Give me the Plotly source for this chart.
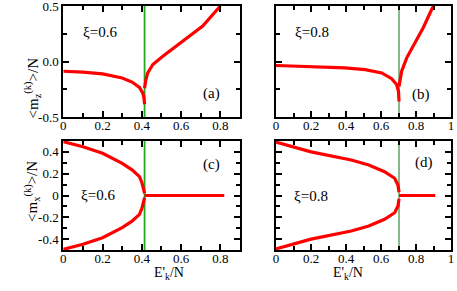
import plotly.graph_objects as go

# ---- data ----
xc_a = 0.414   # critical energy, xi = 0.6
xc_b = 0.703   # critical energy, xi = 0.8

a_lower_x = [0, 0.1, 0.2, 0.3, 0.35, 0.388, 0.405, 0.411, 0.414]
a_lower_y = [-0.088, -0.095, -0.112, -0.148, -0.185, -0.233, -0.285, -0.33, -0.385]
a_upper_x = [0.414, 0.42, 0.43, 0.456, 0.507, 0.608, 0.71, 0.80]
a_upper_y = [-0.24, -0.17, -0.103, -0.027, 0.048, 0.185, 0.32, 0.50]

b_lower_x = [0, 0.194, 0.394, 0.51, 0.604, 0.661, 0.69, 0.70, 0.703]
b_lower_y = [-0.036, -0.045, -0.058, -0.073, -0.103, -0.155, -0.21, -0.27, -0.36]
b_upper_x = [0.703, 0.718, 0.747, 0.794, 0.842, 0.89, 0.9]
b_upper_y = [-0.224, -0.088, 0.033, 0.17, 0.306, 0.47, 0.5]

c_upper_x = [0, 0.1, 0.2, 0.3, 0.35, 0.388, 0.40, 0.41, 0.414]
c_upper_y = [0.494, 0.448, 0.387, 0.295, 0.235, 0.173, 0.12, 0.06, 0.02]
c_lower_y = [-v for v in c_upper_y]
c_flat_x = [0.414, 0.82]
c_flat_y = [0, 0]

d_upper_x = [0, 0.2, 0.43, 0.53, 0.62, 0.678, 0.697, 0.703]
d_upper_y = [0.49, 0.40, 0.326, 0.28, 0.218, 0.158, 0.096, 0.03]
d_lower_y = [-v for v in d_upper_y]
d_flat_x = [0.703, 0.91]
d_flat_y = [0, 0]

x_left_ticks = [0, 0.2, 0.4, 0.6, 0.8]
x_left_text = ["0", "0.2", "0.4", "0.6", "0.8"]
x_right_ticks = [0, 0.2, 0.4, 0.6, 0.8, 1.0]
x_right_text = ["0", "0.2", "0.4", "0.6", "0.8", "1"]
yz_ticks = [-0.5, 0, 0.5]
yz_text = ["-0.5", "0.0", "0.5"]
yx_ticks = [-0.4, -0.2, 0, 0.2, 0.4]
yx_text = ["-0.4", "-0.2", "0", "0.2", "0.4"]

RED = "#ff0000"
GREEN_L = "#22aa22"
GREEN_R = "#117711"
FONT = "Liberation Serif"

fig = go.Figure()

def line(x, y, xa, ya, color=RED, width=3.2):
    fig.add_trace(go.Scatter(x=x, y=y, mode="lines", xaxis=xa, yaxis=ya,
                             line=dict(color=color, width=width), showlegend=False,
                             hoverinfo="skip"))

# vertical critical lines
line([xc_a, xc_a], [-0.5, 0.5], "x", "y", GREEN_L, 1.8)
line([xc_b, xc_b], [-0.5, 0.5], "x2", "y2", GREEN_R, 1.0)
line([xc_a, xc_a], [-0.5, 0.5], "x3", "y3", GREEN_L, 1.8)
line([xc_b, xc_b], [-0.5, 0.5], "x4", "y4", GREEN_R, 1.0)

# panel (a)
line(a_lower_x, a_lower_y, "x", "y")
line(a_upper_x, a_upper_y, "x", "y")
# panel (b)
line(b_lower_x, b_lower_y, "x2", "y2")
line(b_upper_x, b_upper_y, "x2", "y2")
# panel (c)
line(c_upper_x, c_upper_y, "x3", "y3")
line(c_upper_x, c_lower_y, "x3", "y3")
line(c_flat_x, c_flat_y, "x3", "y3")
# panel (d)
line(d_upper_x, d_upper_y, "x4", "y4")
line(d_upper_x, d_lower_y, "x4", "y4")
line(d_flat_x, d_flat_y, "x4", "y4")

W, H = 457, 291
xl = [63.3 / W, 240 / W]
xr = [276 / W, 451 / W]
yt = [(H - 117) / H, (H - 6) / H]
yb = [(H - 250) / H, (H - 141) / H]

tickfont = dict(family=FONT, size=13, color="black")

def xaxis(domain, rng, tv, tt, anchor):
    return dict(domain=domain, range=rng, anchor=anchor, tickvals=tv, ticktext=tt,
                ticks="inside", ticklen=6, tickwidth=1.5, tickcolor="black",
                showline=True, linewidth=2, linecolor="black", mirror="allticks",
                showgrid=False, zeroline=False, tickfont=tickfont, automargin=False,
                ticklabeloverflow="allow", ticklabelstandoff=-5,
                minor=dict(ticks="inside", dtick=0.1, tick0=0, ticklen=4,
                           tickwidth=1.5, tickcolor="black", showgrid=False))

def yaxis(domain, tv, tt, anchor, minor_dt, show_labels):
    return dict(domain=domain, range=[-0.5, 0.5], anchor=anchor, tickvals=tv,
                ticktext=tt, showticklabels=show_labels, automargin=False,
                ticklabeloverflow="allow",
                ticks="inside", ticklen=6, tickwidth=1.5, tickcolor="black",
                showline=True, linewidth=2, linecolor="black", mirror="allticks",
                showgrid=False, zeroline=False, tickfont=tickfont,
                minor=dict(ticks="inside", dtick=minor_dt, tick0=0, ticklen=4,
                           tickwidth=1.5, tickcolor="black", showgrid=False))

fig.update_layout(
    width=W, height=H, margin=dict(l=0, r=0, t=0, b=0, pad=0, autoexpand=False),
    paper_bgcolor="white", plot_bgcolor="white",
    font=dict(family=FONT, size=14, color="black"),
    xaxis=xaxis(xl, [0, 0.9], x_left_ticks, x_left_text, "y"),
    yaxis=yaxis(yt, yz_ticks, yz_text, "x", 0.25, True),
    xaxis2=xaxis(xr, [0, 1.0], x_right_ticks, x_right_text, "y2"),
    yaxis2=yaxis(yt, yz_ticks, yz_text, "x2", 0.25, False),
    xaxis3=xaxis(xl, [0, 0.9], x_left_ticks, x_left_text, "y3"),
    yaxis3=yaxis(yb, yx_ticks, yx_text, "x3", 0.1, True),
    xaxis4=xaxis(xr, [0, 1.0], x_right_ticks, x_right_text, "y4"),
    yaxis4=yaxis(yb, yx_ticks, yx_text, "x4", 0.1, False),
)

ann_font = dict(family=FONT, size=15, color="black")
anns = [
    dict(text="ξ=0.6", x=0.186, y=0.264, xref="x", yref="y"),
    dict(text="(a)", x=0.755, y=-0.29, xref="x", yref="y"),
    dict(text="ξ=0.8", x=0.206, y=0.27, xref="x2", yref="y2"),
    dict(text="(b)", x=0.83, y=-0.30, xref="x2", yref="y2"),
    dict(text="ξ=0.6", x=0.177, y=0.005, xref="x3", yref="y3"),
    dict(text="(c)", x=0.755, y=0.289, xref="x3", yref="y3"),
    dict(text="ξ=0.8", x=0.2, y=0.0, xref="x4", yref="y4"),
    dict(text="(d)", x=0.846, y=0.30, xref="x4", yref="y4"),
]
for a in anns:
    fig.add_annotation(showarrow=False, font=ann_font, **a)

title_font = dict(family=FONT, size=15, color="black")
fig.add_annotation(text="&lt;m<sub>z</sub><sup>(k)</sup>&gt;/N", textangle=-90,
                   x=20 / W, y=1 - 56 / H, xref="paper", yref="paper",
                   showarrow=False, font=title_font)
fig.add_annotation(text="&lt;m<sub>x</sub><sup>(k)</sup>&gt;/N", textangle=-90,
                   x=20 / W, y=1 - 192 / H, xref="paper", yref="paper",
                   showarrow=False, font=title_font)
fig.add_annotation(text="E'<sub>k</sub>/N", x=152 / W, y=1 - 283.5 / H,
                   xref="paper", yref="paper", showarrow=False,
                   font=dict(family=FONT, size=14, color="black"))
fig.add_annotation(text="E'<sub>k</sub>/N", x=365 / W, y=1 - 283.5 / H,
                   xref="paper", yref="paper", showarrow=False,
                   font=dict(family=FONT, size=14, color="black"))

fig.write_html("out.html", config=dict(displayModeBar=False),
               post_script="document.body.style.margin='0';document.body.style.overflow='hidden';")
